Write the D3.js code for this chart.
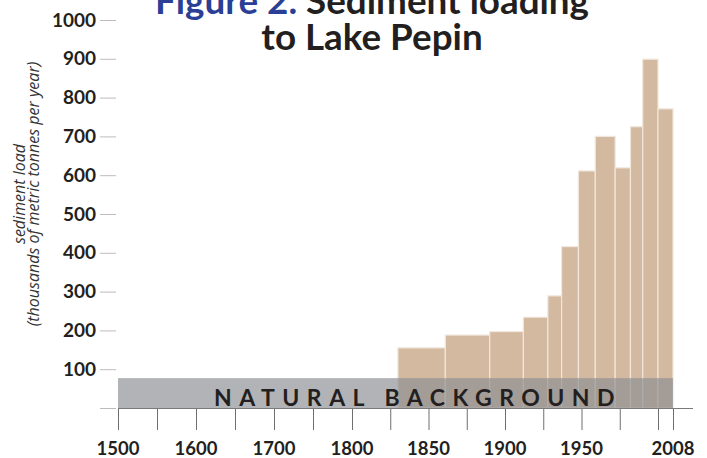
<!DOCTYPE html>
<html>
<head>
<meta charset="utf-8">
<script src="https://cdn.jsdelivr.net/npm/d3@7"></script>
<style>
  html, body { margin: 0; padding: 0; background: #fff; }
  svg { display: block; font-family: Lato, "Open Sans", sans-serif; }
</style>
</head>
<body>
<svg id="chart" width="707" height="458"></svg>
<script>
// ---- data ----
const startYears = [1830, 1861, 1890, 1912, 1928, 1937, 1948, 1959, 1972, 1982, 1990, 2000];
const endYears   = [1861, 1890, 1912, 1928, 1937, 1948, 1959, 1972, 1982, 1990, 2000, 2008];
const sedimentLoad = [155, 188, 197, 234, 289, 416, 611, 700, 619, 725, 899, 771];
const naturalBackground = 77;
const bgStart = 1500, bgEnd = 2008;
const yTicks = [0, 100, 200, 300, 400, 500, 600, 700, 800, 900, 1000];
const xMinorTicks = [1500, 1550, 1600, 1650, 1700, 1750, 1800, 1825, 1850, 1875, 1900, 1925, 1950, 1975, 2000, 2008];
const xTickLabels = [1500, 1600, 1700, 1800, 1850, 1900, 1950, 2008];

const svg = d3.select("#chart");
const dark = "#231f20";

// piecewise linear (broken) time scale
const x = d3.scaleLinear().domain([1500, 1800, 2000, 2008]).range([118, 352, 658, 673]);
const y = d3.scaleLinear().domain([0, 1000]).range([408, 20]);

// title
const title = svg.append("text").attr("text-anchor", "middle").attr("font-weight", 700)
  .attr("font-size", 36.8).attr("fill", dark);
title.append("tspan").attr("x", 372).attr("y", 14).attr("fill", "#2a3f95").text("Figure 2. ");
title.append("tspan").text("Sediment loading");
title.append("tspan").attr("x", 372).attr("y", 50).text("to Lake Pepin");

// bars
const bars = startYears.map((s, i) => ({ s, e: endYears[i], v: sedimentLoad[i] }));
svg.append("g").selectAll("rect").data(bars).join("rect")
  .attr("x", d => x(d.s))
  .attr("width", d => x(d.e) - x(d.s))
  .attr("y", d => y(d.v))
  .attr("height", d => y(0) - y(d.v))
  .attr("fill", "#d3b9a0")
  .attr("stroke", "#f1e7dc")
  .attr("stroke-width", 1.2);

// natural background band
svg.append("rect")
  .attr("x", x(bgStart)).attr("width", x(bgEnd) - x(bgStart))
  .attr("y", y(naturalBackground)).attr("height", y(0) - y(naturalBackground))
  .attr("fill", "#8e8f93").attr("fill-opacity", 0.68);
svg.append("text")
  .attr("x", 418).attr("y", 405.5)
  .attr("text-anchor", "middle")
  .attr("font-size", 23).attr("font-weight", 700)
  .attr("letter-spacing", 7.5)
  .attr("fill", dark)
  .text("NATURAL BACKGROUND");

// y axis
const yAxis = d3.axisLeft(y).tickValues(yTicks).tickSize(16).tickPadding(4)
  .tickFormat(d => d === 0 ? "" : d);
const gy = svg.append("g").attr("transform", "translate(116,0)").call(yAxis);
gy.select(".domain").remove();
gy.selectAll(".tick line").attr("stroke", "#bdbdbd");
gy.selectAll(".tick text").attr("font-family", "Lato, sans-serif").attr("font-size", 19)
  .attr("font-weight", 700).attr("fill", dark);

// x axis
const xAxis = d3.axisBottom(x).tickValues(xMinorTicks).tickSize(22).tickFormat("");
const gx = svg.append("g").attr("transform", "translate(0,408)").call(xAxis);
gx.select(".domain").remove();
gx.selectAll(".tick line").attr("stroke", "#6f6f6f");
svg.append("line").attr("x1", x(1500)).attr("x2", 693).attr("y1", 408.5).attr("y2", 408.5)
  .attr("stroke", "#7a7a7a");
svg.append("g").selectAll("text").data(xTickLabels).join("text")
  .attr("x", d => x(d)).attr("y", 455)
  .attr("text-anchor", "middle")
  .attr("font-size", 18.5).attr("font-weight", 700).attr("fill", dark)
  .text(d => d);

// y axis title
const yt = svg.append("text").attr("transform", "translate(0,194) rotate(-90)")
  .attr("text-anchor", "middle").attr("font-family", "'Open Sans', sans-serif")
  .attr("font-style", "italic").attr("font-size", 16).attr("fill", "#333");
yt.append("tspan").attr("x", 0).attr("y", 25).text("sediment load");
yt.append("tspan").attr("x", 0).attr("y", 39).text("(thousands of metric tonnes per year)");
</script>
</body>
</html>
